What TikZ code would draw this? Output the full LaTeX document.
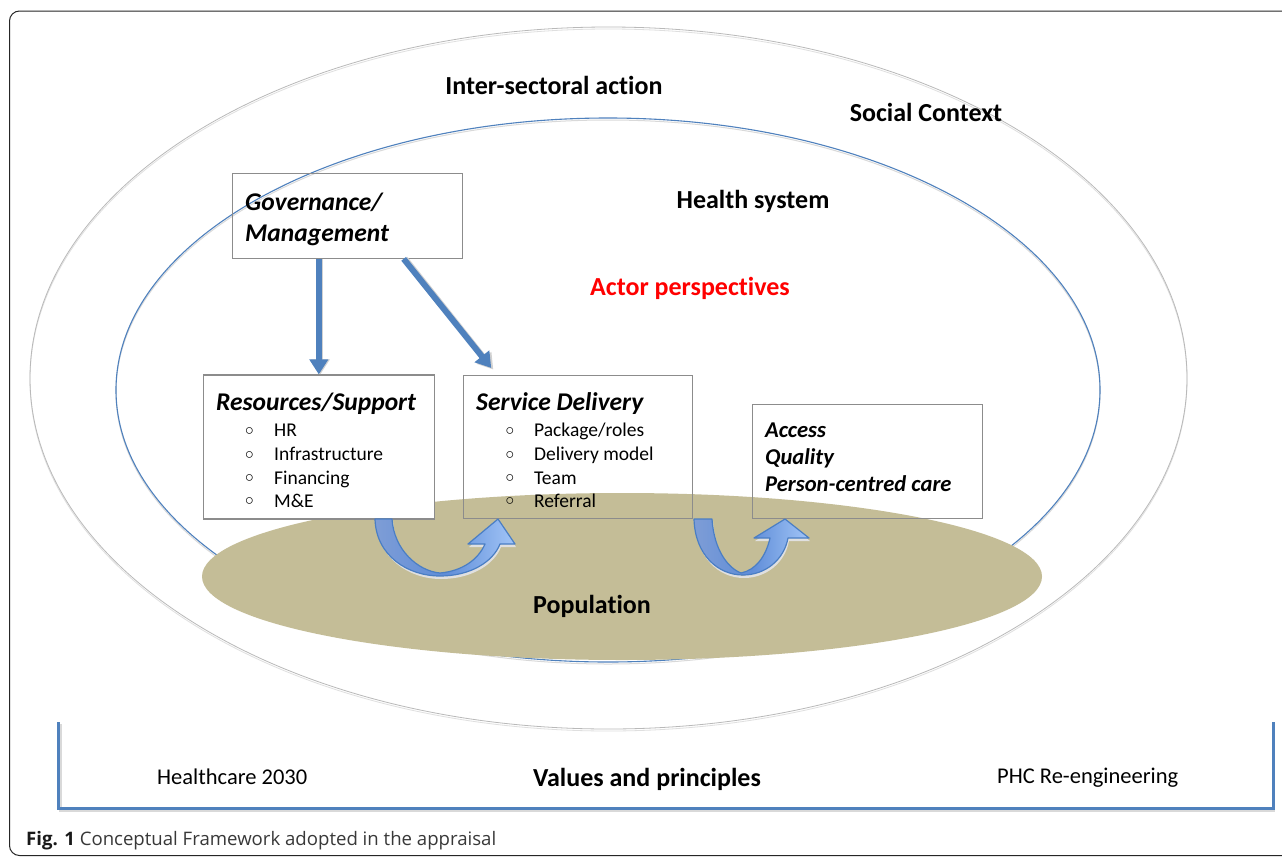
\documentclass[tikz,border=0pt]{standalone}
\usepackage{fontspec}
\setmainfont{Carlito}[Ligatures=NoCommon]
\newfontfamily\capfont{Open Sans}
\newfontfamily\bulfont{DejaVu Sans}
\usetikzlibrary{arrows.meta,calc}
\definecolor{ublue}{HTML}{4F81BD}
\definecolor{khaki}{HTML}{C4BD97}
\definecolor{boxgray}{HTML}{8C8C8C}
\definecolor{arrL}{HTML}{7E9DD6}
\definecolor{arrM}{HTML}{5F8DD8}
\definecolor{arrR}{HTML}{A2C5F7}
\definecolor{arrEdge}{HTML}{4A7EC4}
\begin{document}
\begin{tikzpicture}[x=1pt,y=-1pt,
  box/.style={draw=boxgray,line width=1.1pt,rectangle,inner sep=0pt},
  big/.style={anchor=base,inner sep=0pt,font=\fontsize{26}{31}\selectfont\bfseries},
  hd/.style={anchor=base west,inner sep=0pt,font=\fontsize{25.5}{30}\selectfont\bfseries\itshape},
  outc/.style={anchor=base west,inner sep=0pt,font=\fontsize{22.6}{27}\selectfont\bfseries\itshape},
  item/.style={anchor=base west,inner sep=0pt,font=\fontsize{19.5}{23}\selectfont},
  bul/.style={anchor=base,inner sep=0pt,yshift=-2.5pt,font=\bulfont\fontsize{23}{27}\selectfont},
  plain/.style={anchor=base west,inner sep=0pt,font=\fontsize{22.5}{27}\selectfont},
  sarrow/.style={ublue,line width=6pt,-{Triangle[width=18pt,length=15pt]}},
  sshadow/.style={black!18,line width=6pt,-{Triangle[width=18pt,length=15pt]}},
  carrow/.style={left color=arrL,right color=arrR,middle color=arrM,draw=arrEdge,line width=1.2pt,line join=round},
  cshadow/.style={fill=black!12}
]
\useasboundingbox (0,0) rectangle (1282,857);
\clip (0,0) rectangle (1282,857);
\fill[white] (0,0) rectangle (1282,857);
% frame
\draw[black!85,line width=1pt,rounded corners=10pt] (9.5,11) rectangle (1300,855.5);
% ellipses
\draw[gray!25,line width=0.8pt] (608.5,380) ellipse[x radius=578.5pt,y radius=351pt];
\draw[gray!55,line width=0.8pt] (608.5,378) ellipse[x radius=578.5pt,y radius=351pt];
\draw[gray!30,line width=1pt] (608,392) ellipse[x radius=492pt,y radius=272pt];
\draw[ublue,line width=1.1pt] (608,390) ellipse[x radius=492pt,y radius=272pt];
\fill[khaki] (622,576.5) ellipse[x radius=420pt,y radius=83.5pt];
% boxes
\node[box,minimum width=229.6pt,minimum height=85pt] (gov) at (347.5,215.8) {};
\node[box,fill=white,minimum width=231pt,minimum height=144pt] (res) at (318.8,447) {};
\node[box,minimum width=229.4pt,minimum height=143.3pt] (svc) at (578,446.7) {};
\node[box,minimum width=229.3pt,minimum height=113.7pt] (acc) at (867.4,461.2) {};
% box texts
\node[hd] (gov1) at (245,210) {Governance/};
\node[hd] (gov2) at (245,241) {Management};
\node[hd] (reshd) at (216,410.7) {Resources/Support};
\node[hd] (svchd) at (476,410.7) {Service Delivery};
\foreach \t/\y [count=\i] in {HR/436.7, Infrastructure/460.7, Financing/484, M\&E/507.3} {
  \node[bul] (rb\i) at (249.5,\y) {◦};
  \node[item] (ri\i) at (274,\y) {\t};
}
\node[bul] (sb1) at (510,436.7) {◦};
\node[item] (si1) at (534,436.7) {Package/roles};
\node[bul] (sb2) at (510,460.7) {◦};
\node[item] (si2) at (534,460.7) {Delivery model};
\node[bul] (sb3) at (510,484) {◦};
\node[item] (si3) at (534,484) {Team};
\node[bul] (sb4) at (510,507.3) {◦};
\node[item] (si4) at (534,507.3) {Referral};
\node[outc] (acc1) at (765,437) {Access};
\node[outc] (acc2) at (765,464) {Quality};
\node[outc] (acc3) at (765,491) {Person-centred care};
% labels
\node[big] (inter) at (554,94.3) {Inter-sectoral action};
\node[big] (social) at (926,121) {Social Context};
\node[big] (health) at (753,208) {Health system};
\node[big,text=red] (actor) at (690,295) {Actor perspectives};
\node[big,anchor=base west] (pop) at (533,613.3) {Population};
% straight arrows
\draw[sshadow] ($(gov.south -| res.north)+(1.5,0)$) -- ($(res.north)+(1.5,0)$);
\draw[sarrow] (gov.south -| res.north) -- (res.north);
\draw[sshadow] ($(gov.south west)+(173,0)$) -- ($(svc.north west)+(30.5,-5)$);
\draw[sarrow] ($(gov.south west)+(171.5,0)$) -- ($(svc.north west)+(28.5,-6.5)$);
% curved arrows
\fill[cshadow] (376,521) .. controls (377,558) and (409,579) .. (441,579)
  .. controls (471,579) and (494,565) .. (501,547) -- (516,547) -- (499,522) -- (469,547) -- (486,547)
  .. controls (479,563) and (463,574) .. (441,576)
  .. controls (419,574) and (395,552) .. (393,521) -- cycle;
\draw[carrow] (375,519) .. controls (376,556) and (408,576) .. (440,576)
  .. controls (470,576) and (493,562) .. (500,544) -- (515,544) -- (498,519) -- (468,544) -- (485,544)
  .. controls (478,560) and (462,571) .. (440,573)
  .. controls (418,571) and (394,550) .. (392,519) -- cycle;
\fill[cshadow] (695,521) .. controls (696,558) and (719,578) .. (744,578)
  .. controls (766,578) and (785,563) .. (789,541) -- (810,541) -- (786,522) -- (755,541) -- (771,541)
  .. controls (767,559) and (757,573) .. (742,576)
  .. controls (729,571) and (715,552) .. (713,521) -- cycle;
\draw[carrow] (694,519) .. controls (695,555) and (718,575) .. (743,575)
  .. controls (765,575) and (784,560) .. (788,538) -- (809,538) -- (785,519) -- (754,538) -- (770,538)
  .. controls (766,556) and (756,570) .. (741,573)
  .. controls (728,568) and (714,550) .. (712,519) -- cycle;
% values bracket
\coordinate (bl) at (58.3,722);
\coordinate (br) at (1273.3,722);
\draw[black!15,line width=3.3pt] ($(bl)+(2,2)$) -- ($(bl)+(2,88.3)$) -- ($(br)+(2,88.3)$);
\draw[ublue,line width=3.3pt] (bl) -- ($(bl)+(0,86.3)$) -- ($(br)+(0,86.3)$) -- (br);
\node[plain] (hc) at (157,784) {Healthcare 2030};
\node[big,anchor=base west] (vals) at (533,786.7) {Values and principles};
\node[plain] (phc) at (997,783.5) {PHC Re-engineering};
% caption
\node[anchor=base west,inner sep=0pt,font=\capfont\fontsize{18.6}{22}\selectfont,text=black!78] (cap) at (26,845) {\textbf{\color{black!90}Fig. 1} Conceptual Framework adopted in the appraisal};
\end{tikzpicture}
\end{document}
